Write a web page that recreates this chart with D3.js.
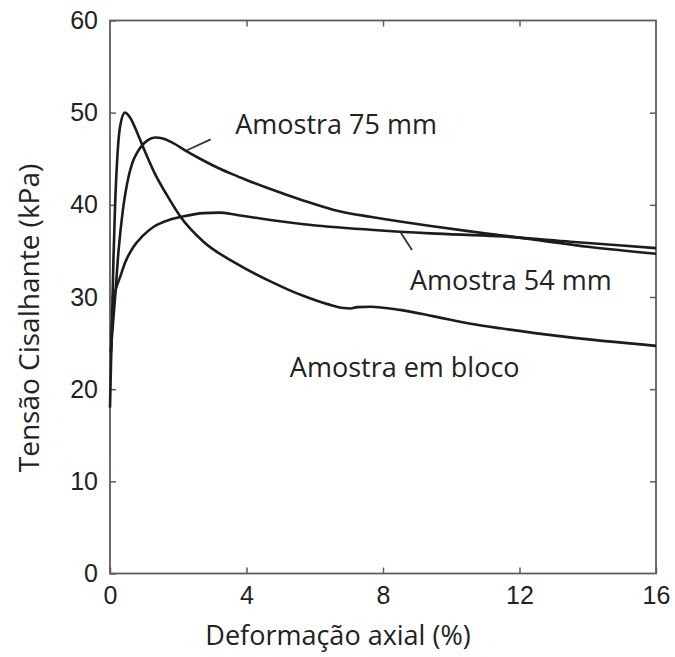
<!DOCTYPE html>
<html>
<head>
<meta charset="utf-8">
<script src="https://cdn.jsdelivr.net/npm/d3@7"></script>
<style>
  body { margin: 0; background: #fff; }
  text { font-family: "Liberation Sans", Arial, sans-serif; }
</style>
</head>
<body>
<svg id="myGraph" width="675" height="657"></svg>
<script>
var svgWidth = 675;
var svgHeight = 657;

// curva da amostra em bloco
var blocoX = [0, 0.05, 0.1, 0.15, 0.22, 0.3, 0.44, 0.6, 0.8, 1.0, 1.3, 1.66, 2.05, 2.74, 3.72, 4.7, 5.68, 6.4, 6.85, 7.05, 7.24, 7.63, 8.5, 9.49, 10.57, 11.45, 13.3, 16];
var blocoY = [18, 26, 34, 40, 45.5, 48.6, 50, 49.4, 47.8, 46.0, 43.5, 41.1, 38.8, 36.0, 33.6, 31.7, 30.1, 29.2, 28.8, 28.75, 28.9, 28.95, 28.6, 27.9, 27.1, 26.6, 25.7, 24.7];

// amostra 75 mm
var a75X = [0.02, 0.15, 0.25, 0.38, 0.5, 0.65, 0.8, 0.93, 1.1, 1.32, 1.55, 1.8, 2.25, 2.64, 3.17, 3.6, 4.0, 4.6, 5.68, 6.56, 7.63, 8.5, 9.4, 10.5, 11.35, 12.5, 14, 16];
var a75Y = [24, 30, 35, 39.5, 42.3, 44.5, 45.7, 46.4, 47.0, 47.3, 47.2, 46.8, 45.8, 45.0, 44.0, 43.3, 42.7, 41.85, 40.45, 39.45, 38.7, 38.2, 37.7, 37.15, 36.75, 36.2, 35.45, 34.7];

// amostra 54 mm
var a54X = [0.03, 0.1, 0.2, 0.29, 0.45, 0.68, 0.95, 1.27, 1.76, 2.1, 2.74, 3.2, 3.72, 4.7, 5.68, 7.63, 9.4, 11.35, 13.5, 16];
var a54Y = [24, 29.5, 31.2, 32.1, 33.8, 35.4, 36.6, 37.6, 38.4, 38.7, 39.1, 39.15, 38.9, 38.35, 37.9, 37.3, 36.9, 36.6, 36.0, 35.3];

var xTicks = [0, 4, 8, 12, 16];
var yTicks = [0, 10, 20, 30, 40, 50, 60];

var labels = ['Amostra 75 mm', 'Amostra 54 mm', 'Amostra em bloco'];

var svg = d3.select('#myGraph');

var xScale = d3.scaleLinear().domain([0, 16]).range([110, 656]);
var yScale = d3.scaleLinear().domain([0, 60]).range([573.5, 20.5]);

// eixos
var axisColor = '#5c5c5c';
var tickFont = '"Liberation Sans", Arial, sans-serif';
var labelFont = '"Open Sans", sans-serif';

svg.append('g')
  .attr('transform', 'translate(0,' + yScale(0) + ')')
  .call(d3.axisBottom(xScale).tickValues(xTicks).tickSizeInner(-6).tickSizeOuter(0).tickPadding(13))
  .call(function(g) { g.select('.domain').remove(); })
  .call(function(g) {
    g.selectAll('line').attr('stroke', axisColor).attr('stroke-width', 1.5);
    g.selectAll('text').attr('font-size', 25).attr('fill', '#222').style('font-family', tickFont);
  });

svg.append('g')
  .attr('transform', 'translate(' + xScale(0) + ',0)')
  .call(d3.axisLeft(yScale).tickValues(yTicks).tickSizeInner(-6).tickSizeOuter(0).tickPadding(12))
  .call(function(g) { g.select('.domain').remove(); })
  .call(function(g) {
    g.selectAll('line').attr('stroke', axisColor).attr('stroke-width', 1.5);
    g.selectAll('text').attr('font-size', 25).attr('fill', '#222').style('font-family', tickFont);
  });

svg.append('g')
  .attr('transform', 'translate(0,' + yScale(60) + ')')
  .call(d3.axisTop(xScale).tickValues([4, 8, 12]).tickSizeInner(-6).tickSizeOuter(0).tickFormat(''))
  .call(function(g) { g.select('.domain').remove(); })
  .selectAll('line').attr('stroke', axisColor).attr('stroke-width', 1.5);

svg.append('g')
  .attr('transform', 'translate(' + xScale(16) + ',0)')
  .call(d3.axisRight(yScale).tickValues([10, 20, 30, 40, 50]).tickSizeInner(-6).tickSizeOuter(0).tickFormat(''))
  .call(function(g) { g.select('.domain').remove(); })
  .selectAll('line').attr('stroke', axisColor).attr('stroke-width', 1.5);

// moldura
svg.append('rect')
  .attr('x', xScale(0))
  .attr('y', yScale(60))
  .attr('width', xScale(16) - xScale(0))
  .attr('height', yScale(0) - yScale(60))
  .attr('fill', 'none')
  .attr('stroke', axisColor)
  .attr('stroke-width', 1.8);

// curvas
var line = d3.line()
  .x(function(d) { return xScale(d[0]); })
  .y(function(d) { return yScale(d[1]); })
  .curve(d3.curveMonotoneX);

var series = [
  d3.zip(blocoX, blocoY),
  d3.zip(a75X, a75Y),
  d3.zip(a54X, a54Y)
];

svg.append('g')
  .selectAll('path')
  .data(series)
  .enter()
  .append('path')
  .attr('d', line)
  .attr('fill', 'none')
  .attr('stroke', '#1c1c1c')
  .attr('stroke-width', 2.6)
  .attr('stroke-linejoin', 'round');

// linhas de chamada
var leaders = [
  [[2.24, 45.9], [2.95, 47.1]],
  [[8.5, 37.1], [8.85, 35.1]]
];
svg.append('g')
  .selectAll('line')
  .data(leaders)
  .enter()
  .append('line')
  .attr('x1', function(d) { return xScale(d[0][0]); })
  .attr('y1', function(d) { return yScale(d[0][1]); })
  .attr('x2', function(d) { return xScale(d[1][0]); })
  .attr('y2', function(d) { return yScale(d[1][1]); })
  .attr('stroke', '#333')
  .attr('stroke-width', 1.8);

// rótulos das curvas
var labelPos = [[3.67, 47.7], [8.79, 30.8], [5.27, 21.3]];
svg.append('g')
  .selectAll('text')
  .data(labels)
  .enter()
  .append('text')
  .attr('x', function(d, i) { return xScale(labelPos[i][0]); })
  .attr('y', function(d, i) { return yScale(labelPos[i][1]); })
  .attr('font-size', 27)
  .attr('fill', '#222')
  .style('font-family', labelFont)
  .text(function(d) { return d; });

// títulos dos eixos
svg.append('text')
  .attr('x', 338)
  .attr('y', 645)
  .attr('text-anchor', 'middle')
  .attr('font-size', 27)
  .attr('fill', '#222')
  .style('font-family', labelFont)
  .text('Deformação axial (%)');

svg.append('text')
  .attr('transform', 'translate(39,318) rotate(-90)')
  .attr('text-anchor', 'middle')
  .attr('font-size', 28)
  .attr('fill', '#222')
  .style('font-family', labelFont)
  .text('Tensão Cisalhante (kPa)');
</script>
</body>
</html>
